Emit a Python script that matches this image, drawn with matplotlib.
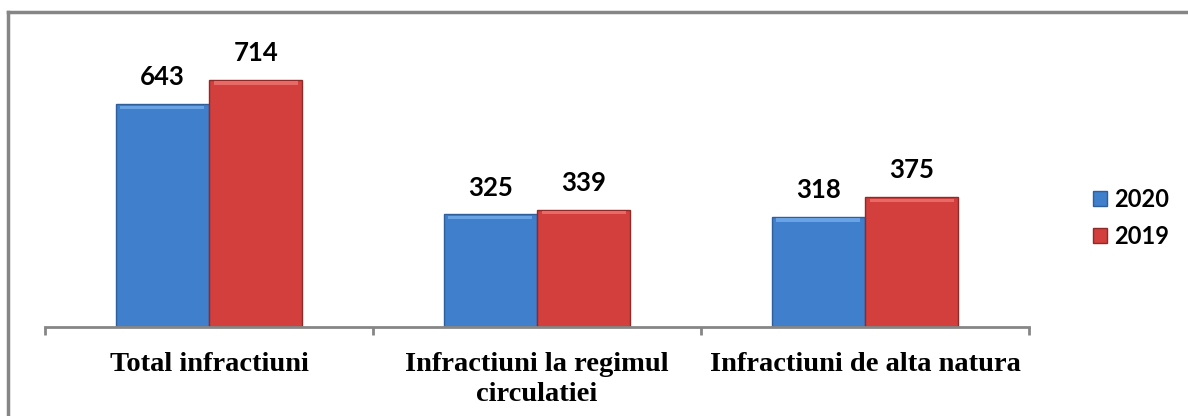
import matplotlib.pyplot as plt
from matplotlib.lines import Line2D
import numpy as np

categories = ['Total infractiuni', 'Infractiuni la regimul\ncirculatiei', 'Infractiuni de alta natura']
series_names = ['2020', '2019']
values_2020 = [643, 325, 318]
values_2019 = [714, 339, 375]

W, H = 1188, 416
fig = plt.figure(figsize=(W / 100, H / 100), dpi=100)
ax = fig.add_axes([45 / W, 1 - 327 / H, (1029 - 45) / W, (327 - 50) / H])

x = np.arange(len(categories))
bw = 0.285
blue = '#3f7fcc'
red = '#d23f3c'
b1 = ax.bar(x - bw / 2, values_2020, bw, color=blue, edgecolor='#2f5f9a', linewidth=1, label=series_names[0])
b2 = ax.bar(x + bw / 2, values_2019, bw, color=red, edgecolor='#8e2a28', linewidth=1, label=series_names[1])

# lighter bevel strip near the top of each bar
for bars, c in ((b1, '#6aa2e6'), (b2, '#e86a66')):
    for r in bars:
        ax.bar(r.get_x() + r.get_width() / 2, 10, r.get_width() * 0.9,
               bottom=r.get_height() - 14, color=c, linewidth=0)

for xs, vals in ((x - bw / 2, values_2020), (x + bw / 2, values_2019)):
    for xi, v in zip(xs, vals):
        ax.text(xi, v + 43, str(v), ha='center', va='bottom', fontsize=18.5,
                fontweight='bold', family='Lato', color='black')

ax.set_xlim(-0.5, len(categories) - 0.5)
ax.set_ylim(0, 800)
ax.set_yticks([])
for s in ('top', 'right', 'left'):
    ax.spines[s].set_visible(False)
ax.spines['bottom'].set_color('#868686')
ax.spines['bottom'].set_linewidth(2)

ax.set_xticks(np.arange(len(categories) + 1) - 0.5)
ax.set_xticklabels([])
ax.tick_params(axis='x', which='major', length=6, width=2, color='#868686')
ax.set_xticks(x, minor=True)
ax.set_xticklabels(categories, minor=True, fontsize=20.5, fontweight='bold',
                   family='Liberation Serif', linespacing=1.25)
ax.tick_params(axis='x', which='minor', length=0, pad=18)

fig.legend(handles=[b1, b2], labels=series_names, loc='center left',
           bbox_to_anchor=(1072 / W, 1 - 218 / H), frameon=False,
           prop={'family': 'Lato', 'weight': 'bold', 'size': 17},
           handlelength=0.6, handleheight=0.6, handletextpad=0.3,
           labelspacing=0.6)

# outer frame (left and top edges visible)
x0, y0 = 8 / W, 1 - 12 / H
fig.add_artist(Line2D([x0, x0], [0, y0], transform=fig.transFigure, color='#868686', lw=2.5))
fig.add_artist(Line2D([x0, 1], [y0, y0], transform=fig.transFigure, color='#868686', lw=2.5))

fig.savefig('out.png', dpi=100)
